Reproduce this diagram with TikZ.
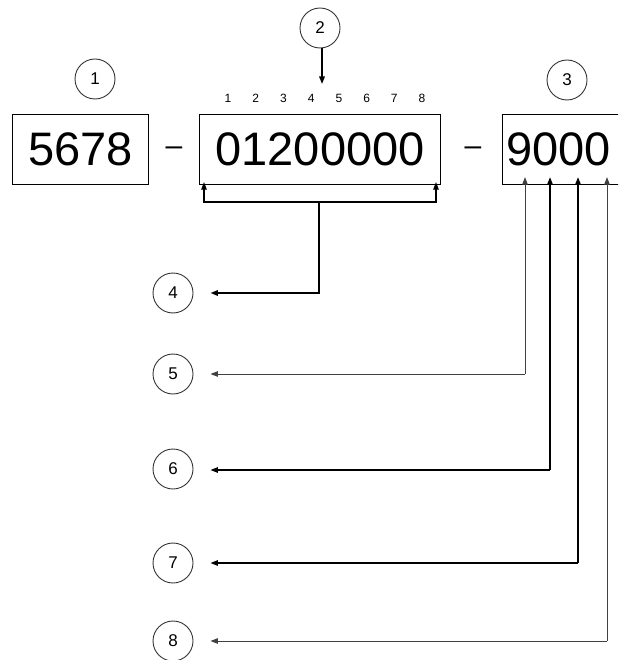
\documentclass[tikz,border=0pt]{standalone}
\usepackage{fontspec}
\setmainfont{Liberation Sans}
\usetikzlibrary{arrows.meta}
\begin{document}
\begin{tikzpicture}[x=1pt,y=-1pt,
  circ/.style={circle,draw=black!80,line width=0.9pt,minimum size=40pt,inner sep=0pt,font=\fontsize{17}{17}\selectfont},
  bigbox/.style={rectangle,draw=black,line width=1.1pt,minimum height=70pt,inner sep=0pt,font=\fontsize{47}{47}\selectfont},
  small/.style={inner sep=0pt,font=\fontsize{12}{12}\selectfont},
  dashtext/.style={inner sep=0pt,anchor=base,font=\fontsize{30}{30}\selectfont},
  tip/.style={-{Triangle[length=7.5pt,width=5.5pt]}},
  thk/.style={line width=1.4pt,black},
  thn/.style={line width=1pt,black!75}]
\useasboundingbox (0,0) rectangle (618,660);
\clip (0,0) rectangle (618,660);
% boxes
\node[bigbox,minimum width=136pt,anchor=north west] (b1) at (12,114) {5678};
\node[bigbox,minimum width=241pt,anchor=north west] (b2) at (199,114) {01200000};
\node[bigbox,anchor=north west,text width=132pt,align=left,inner xsep=4pt] (b3) at (502,114) {9000};
\node[dashtext] (d1) at (174,156) {–};
\node[dashtext] (d2) at (473,156) {–};
% digit indices
\foreach \i [count=\k] in {228,255.7,283.4,311.1,338.9,366.6,394.3,422}
  \node[small] (n\k) at (\i,98) {\k};
% circles
\node[circ] (c1) at (95,79) {1};
\node[circ] (c2) at (320,28) {2};
\node[circ] (c3) at (567,80) {3};
\node[circ] (c4) at (173,293) {4};
\node[circ] (c5) at (173,374) {5};
\node[circ] (c6) at (173,469) {6};
\node[circ] (c7) at (173,563) {7};
\node[circ] (c8) at (173,641) {8};
% arrow from 2
\coordinate (a2) at (322,84);
\draw[thk,tip] (c2.south -| a2) -- (a2);
% bracket under box 2
\coordinate (bm) at (319,202);
\coordinate (bl) at (204,202);
\coordinate (brr) at (436,202);
\draw[thk,line width=1.1pt,tip] (bm) -- (bl) -- ([yshift=3pt]bl |- b2.south);
\draw[thk,line width=1.1pt,tip] (bm) -- (brr) -- ([yshift=3pt]brr |- b2.south);
\draw[thk,line width=1.7pt,tip] (bm) |- ([xshift=17pt]c4.east);
% arrows from box 3
\coordinate (v5) at (525,374);
\coordinate (v6) at (550,470);
\coordinate (v7) at (578,563);
\coordinate (v8) at (607,641);
\draw[thn,tip] (v5) -- ([xshift=17pt]c5.east);
\draw[thn,tip] (v5) -- ([yshift=8pt]v5 |- b3.south);
\draw[thk,tip] (v6) -- ([xshift=17pt]c6.east |- v6);
\draw[thk,tip] (v6) -- ([yshift=8pt]v6 |- b3.south);
\draw[thk,tip] (v7) -- ([xshift=17pt]c7.east);
\draw[thk,tip] (v7) -- ([yshift=8pt]v7 |- b3.south);
\draw[thn,tip] (v8) -- ([xshift=17pt]c8.east);
\draw[thn,tip] (v8) -- ([yshift=8pt]v8 |- b3.south);
\end{tikzpicture}
\end{document}
